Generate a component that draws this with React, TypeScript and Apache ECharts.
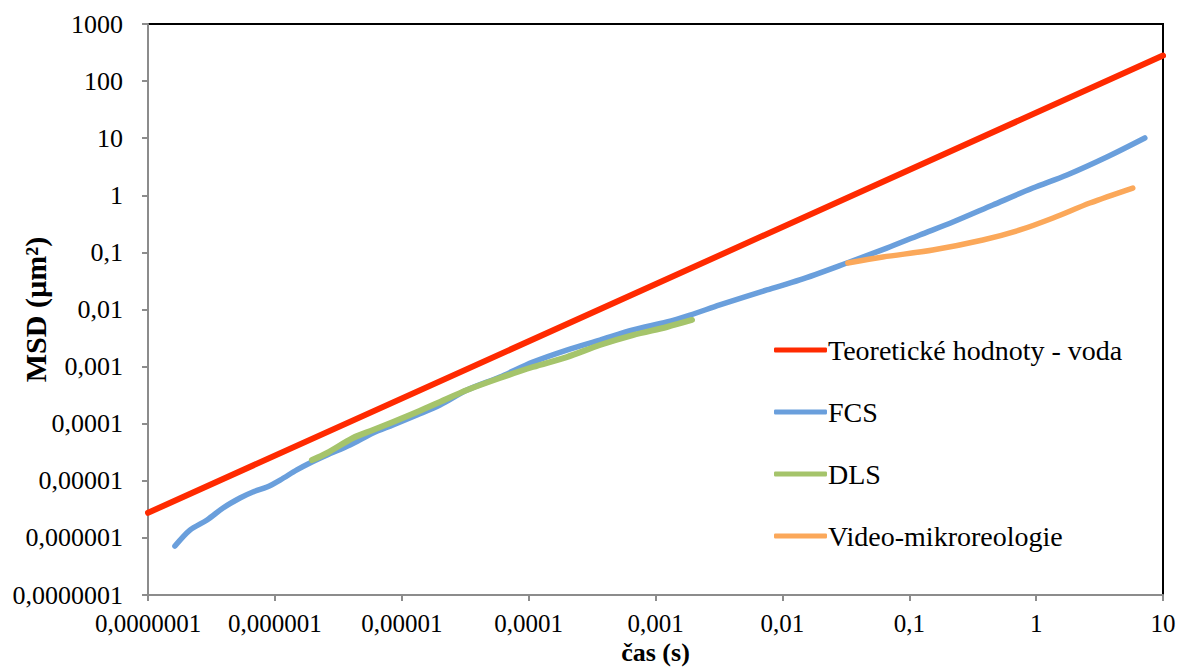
import React, { useEffect, useRef } from "react";
import * as echarts from "echarts";

// Teoretické hodnoty - voda
const theoryT = [1e-7, 10];
const theoryMSD = [2.75e-6, 280];

// FCS
const fcsT = [1.63e-7, 2.14e-7, 2.92e-7, 3.9e-7, 5.31e-7, 6.71e-7, 8.67e-7, 1.1e-6, 1.49e-6, 1.89e-6, 2.58e-6, 3.91e-6, 5.93e-6, 8.53e-6, 1.32e-5, 2.0e-5, 3.27e-5, 5.94e-5, 1.08e-4, 2.0e-4, 3.65e-4, 6.64e-4, 1.23e-3, 1.87e-3, 3.21e-3, 7.55e-3, 1.37e-2, 3.22e-2, 6.65e-2, 0.121, 0.221, 0.456, 0.942, 1.75, 3.61, 7.19];
const fcsMSD = [7.2e-7, 1.37e-6, 2.06e-6, 3.34e-6, 5.0e-6, 6.37e-6, 7.78e-6, 1.03e-5, 1.55e-5, 2.05e-5, 2.83e-5, 4.24e-5, 6.87e-5, 9.5e-5, 1.42e-4, 2.12e-4, 3.89e-4, 6.58e-4, 1.2e-3, 1.95e-3, 2.92e-3, 4.38e-3, 6.04e-3, 8.0e-3, 1.2e-2, 2.2e-2, 3.29e-2, 6.52e-2, 0.119, 0.202, 0.34, 0.676, 1.34, 2.27, 4.69, 10.1];

// DLS
const dlsT = [1.96e-6, 2.58e-6, 4.12e-6, 5.93e-6, 8.53e-6, 1.32e-5, 2.0e-5, 3.27e-5, 5.94e-5, 1.08e-4, 2.0e-4, 3.65e-4, 6.64e-4, 1.23e-3, 1.94e-3];
const dlsMSD = [2.31e-5, 3.07e-5, 5.62e-5, 7.76e-5, 1.07e-4, 1.6e-4, 2.4e-4, 3.89e-4, 6.31e-4, 9.84e-4, 1.47e-3, 2.39e-3, 3.57e-3, 4.94e-3, 6.55e-3];

// Video-mikroreologie
const videoT = [3.28e-2, 6.19e-2, 0.153, 0.38, 0.745, 1.36, 2.65, 5.78];
const videoMSD = [6.52e-2, 8.3e-2, 0.11, 0.165, 0.247, 0.4, 0.733, 1.34];

const seriesNames = ["Teoretické hodnoty - voda", "FCS", "DLS", "Video-mikroreologie"];
const xTitle = "čas (s)";
const yTitle = "MSD (µm²)";

const zip = (a: number[], b: number[]) => a.map((v, i) => [v, b[i]]);

const fmt = (v: number) => {
  if (v >= 1) return String(Math.round(v));
  const d = Math.round(-Math.log10(v));
  return v.toFixed(d).replace(".", ",");
};

const FONT = "Liberation Serif";

export default function App() {
  const ref = useRef<HTMLDivElement>(null);
  useEffect(() => {
    document.body.style.margin = "0";
    if (!ref.current) return;
    const chart = echarts.init(ref.current, undefined, { renderer: "svg" });
    const axisCommon = {
      axisLine: { lineStyle: { color: "#8c8c8c", width: 2 } },
      axisTick: { show: true, length: 6, lineStyle: { color: "#8c8c8c", width: 2 } },
      splitLine: { show: false },
      minorTick: { show: false },
    };
    chart.setOption({
      animation: false,
      backgroundColor: "#ffffff",
      textStyle: { fontFamily: FONT },
      grid: {
        left: 148,
        right: 16,
        top: 24,
        bottom: 73,
        containLabel: false,
        outerBoundsMode: "none",
        show: true,
        borderColor: "#000000",
        borderWidth: 2,
        backgroundColor: "transparent",
      },
      legend: {
        orient: "vertical",
        left: 769,
        top: 331,
        icon: "roundRect",
        itemWidth: 53,
        itemHeight: 5,
        itemGap: 34,
        data: seriesNames,
        textStyle: { fontFamily: FONT, fontSize: 28, color: "#000", padding: [0, 0, 0, -4] },
      },
      xAxis: {
        type: "log",
        logBase: 10,
        min: 1e-7,
        max: 10,
        interval: 1,
        ...axisCommon,
        axisLabel: {
          formatter: fmt,
          fontFamily: FONT,
          fontSize: 25,
          color: "#000",
          margin: 16,
          showMinLabel: true,
          showMaxLabel: true,
        },
        name: xTitle,
        nameLocation: "middle",
        nameGap: 44,
        nameMoveOverlap: false,
        nameTextStyle: { fontFamily: FONT, fontSize: 26, fontWeight: "bold", color: "#000" },
      },
      yAxis: {
        type: "log",
        logBase: 10,
        min: 1e-7,
        max: 1000,
        interval: 1,
        ...axisCommon,
        axisLabel: {
          formatter: fmt,
          fontFamily: FONT,
          fontSize: 26,
          color: "#000",
          margin: 25,
          showMinLabel: true,
          showMaxLabel: true,
        },
        name: yTitle,
        nameLocation: "middle",
        nameGap: 98,
        nameRotate: 90,
        nameMoveOverlap: false,
        nameTextStyle: { fontFamily: FONT, fontSize: 30, fontWeight: "bold", color: "#000" },
      },
      series: [
        {
          name: seriesNames[0],
          type: "line",
          data: zip(theoryT, theoryMSD),
          showSymbol: false,
          symbol: "none",
          lineStyle: { color: "#ff2a00", width: 6, cap: "round" },
          itemStyle: { color: "#ff2a00" },
          z: 5,
        },
        {
          name: seriesNames[1],
          type: "line",
          data: zip(fcsT, fcsMSD),
          showSymbol: false,
          symbol: "none",
          smooth: 0.3,
          lineStyle: { color: "#6a9fdc", width: 5.5, cap: "round", join: "round" },
          itemStyle: { color: "#6a9fdc" },
          z: 2,
        },
        {
          name: seriesNames[2],
          type: "line",
          data: zip(dlsT, dlsMSD),
          showSymbol: false,
          symbol: "none",
          smooth: 0.3,
          lineStyle: { color: "#a5c46b", width: 6, cap: "round", join: "round" },
          itemStyle: { color: "#a5c46b" },
          z: 3,
        },
        {
          name: seriesNames[3],
          type: "line",
          data: zip(videoT, videoMSD),
          showSymbol: false,
          symbol: "none",
          smooth: 0.3,
          lineStyle: { color: "#fba85a", width: 5.5, cap: "round", join: "round" },
          itemStyle: { color: "#fba85a" },
          z: 4,
        },
      ],
    });
    return () => chart.dispose();
  }, []);
  return <div ref={ref} style={{ width: 1179, height: 668 }} />;
}
